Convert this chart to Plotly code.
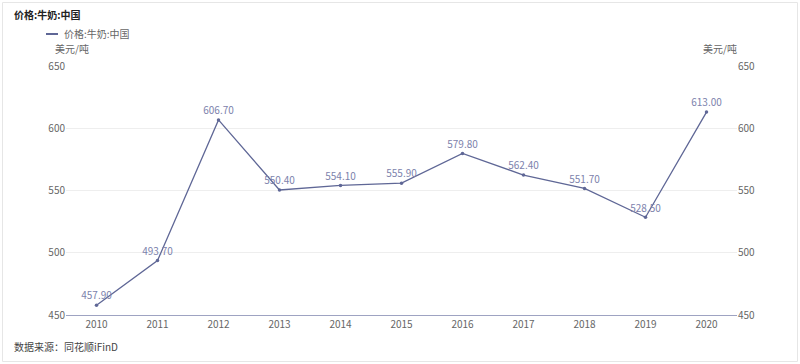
import plotly.graph_objects as go

years = ["2010", "2011", "2012", "2013", "2014", "2015", "2016", "2017", "2018", "2019", "2020"]
prices = [457.90, 493.70, 606.70, 550.40, 554.10, 555.90, 579.80, 562.40, 551.70, 528.50, 613.00]
y_ticks = [450, 500, 550, 600, 650]

W, H = 800, 364
ml, mr, mt, mb = 66, 63, 66, 49
pw, ph = W - ml - mr, H - mt - mb

def px(x):
    return (x - ml) / pw

def py(y):
    return (H - mb - y) / ph

line_color = "#5f6796"
label_color = "#7c82ac"
font_cjk = "Noto Sans CJK SC, Noto Sans, sans-serif"

fig = go.Figure()
fig.add_trace(go.Scatter(
    x=years, y=prices, mode="lines+markers+text",
    name="价格:牛奶:中国",
    line=dict(color=line_color, width=1.3),
    marker=dict(size=3.5, color=line_color),
    text=[f"{v:.2f}" for v in prices],
    textposition="top center",
    textfont=dict(size=10, color=label_color, family=font_cjk),
    showlegend=False,
))
fig.add_trace(go.Scatter(x=years, y=prices, yaxis="y2", mode="lines",
                         line=dict(width=0), hoverinfo="skip", showlegend=False, opacity=0))

tickfont = dict(size=10, color="#666666", family=font_cjk)
fig.update_layout(
    width=W, height=H,
    margin=dict(l=ml, r=mr, t=mt, b=mb),
    paper_bgcolor="white", plot_bgcolor="white",
    xaxis=dict(type="category", showgrid=False, showline=True, linecolor="#9ea3c2",
               linewidth=1, ticks="", tickfont=tickfont, range=[-0.5, 10.5]),
    yaxis=dict(range=[450, 650], tickvals=y_ticks, showgrid=True, gridcolor="#eeeeee",
               zeroline=False, showline=False, tickfont=tickfont, ticks="", ticklen=0),
    yaxis2=dict(range=[450, 650], tickvals=y_ticks, overlaying="y", side="right",
                showgrid=False, zeroline=False, showline=False, tickfont=tickfont),
    showlegend=False,
)

ann = []
ann.append(dict(text="<b>价格:牛奶:中国</b>", x=px(12), y=py(15), xref="paper", yref="paper",
                xanchor="left", yanchor="middle", showarrow=False,
                font=dict(size=10, color="#222222", family=font_cjk)))
ann.append(dict(text="价格:牛奶:中国", x=px(62), y=py(34), xref="paper", yref="paper",
                xanchor="left", yanchor="middle", showarrow=False,
                font=dict(size=10, color="#666666", family=font_cjk)))
ann.append(dict(text="美元/吨", x=px(72), y=py(48), xref="paper", yref="paper",
                xanchor="center", yanchor="middle", showarrow=False,
                font=dict(size=10, color="#666666", family=font_cjk)))
ann.append(dict(text="美元/吨", x=px(720), y=py(48), xref="paper", yref="paper",
                xanchor="center", yanchor="middle", showarrow=False,
                font=dict(size=10, color="#666666", family=font_cjk)))
ann.append(dict(text="数据来源：同花顺iFinD", x=px(12), y=py(346), xref="paper", yref="paper",
                xanchor="left", yanchor="middle", showarrow=False,
                font=dict(size=10, color="#444444", family=font_cjk)))
fig.update_layout(annotations=ann)

fig.add_shape(type="line", xref="paper", yref="paper", x0=px(46), x1=px(58), y0=py(34), y1=py(34),
              line=dict(color=line_color, width=2))
fig.add_shape(type="rect", xref="paper", yref="paper", x0=px(2.5), x1=px(797.5), y0=py(2.5), y1=py(361.5),
              line=dict(color="#e6e6e6", width=1), layer="below")

fig.write_html("out.html", config={"displayModeBar": False},
               post_script="document.body.style.margin='0';document.body.style.overflow='hidden';")
